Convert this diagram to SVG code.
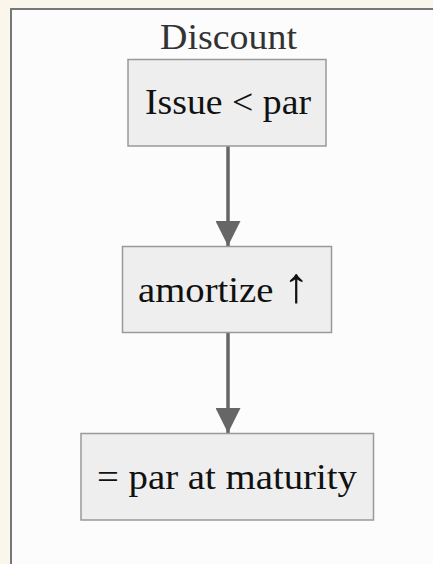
<svg xmlns="http://www.w3.org/2000/svg" width="433" height="564" viewBox="0 0 433 564">
<style>
.node rect{fill:#eeeeee;stroke:#999999;stroke-width:1.5}
.node text{font-family:"Liberation Serif",serif;font-size:36px;fill:#111111;text-anchor:middle}
.title{font-family:"Liberation Serif",serif;font-size:36px;fill:#333333;text-anchor:middle}
.edge{stroke:#666666;stroke-width:3.5;fill:none}
.sym{font-size:50px}
</style>
<defs>
<marker id="arr" markerUnits="userSpaceOnUse" markerWidth="26" markerHeight="25" refX="25" refY="12.5" orient="auto">
<path d="M0,0 L25,12.5 L0,25 Z" fill="#666666"/>
</marker>
</defs>
<rect x="0" y="0" width="433" height="564" fill="#faf6eb"/>
<rect x="11" y="9" width="440" height="580" fill="#fcfcfc" stroke="#777777" stroke-width="2"/>
<text class="title" x="228.5" y="49" textLength="137" lengthAdjust="spacingAndGlyphs">Discount</text>
<g id="connectors">
<line class="edge" x1="228" y1="146" x2="228" y2="246" marker-end="url(#arr)"/>
<line class="edge" x1="228" y1="333" x2="228" y2="433" marker-end="url(#arr)"/>
</g>
<g id="n1" class="node">
<rect x="128" y="59.5" width="198" height="86.5"/>
<text x="228" y="114" textLength="166" lengthAdjust="spacingAndGlyphs">Issue &lt; par</text>
</g>
<g id="n2" class="node">
<rect x="122.5" y="246.5" width="209" height="86"/>
<text x="224" y="301.5" textLength="172" lengthAdjust="spacingAndGlyphs">amortize <tspan class="sym">↑</tspan></text>
</g>
<g id="n3" class="node">
<rect x="81" y="433.5" width="292.5" height="86.5"/>
<text x="227" y="489" textLength="260" lengthAdjust="spacingAndGlyphs">= par at maturity</text>
</g>
</svg>
